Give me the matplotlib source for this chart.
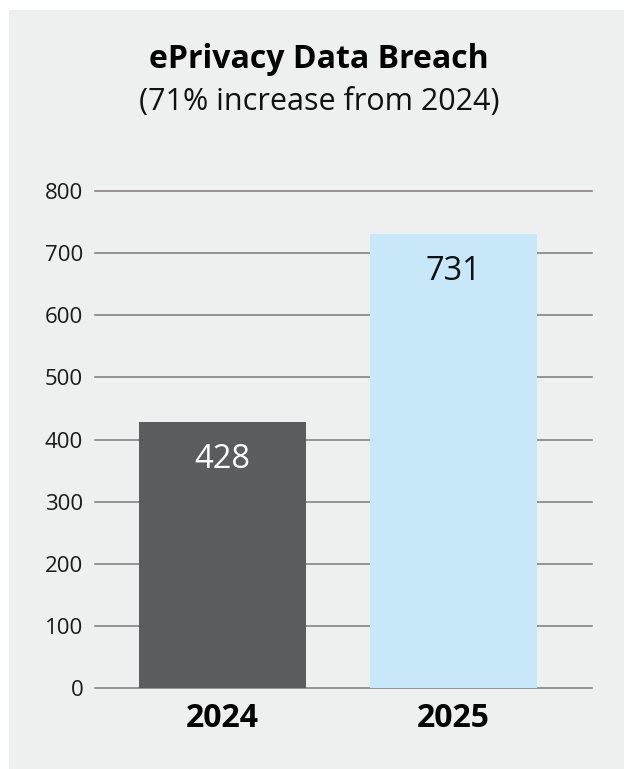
import matplotlib.pyplot as plt
from matplotlib.patches import Rectangle

years = ["2024", "2025"]
breaches = [428, 731]
bar_colors = ["#5b5c5e", "#c6e8f8"]
label_colors = ["white", "#111111"]
yticks = [0, 100, 200, 300, 400, 500, 600, 700, 800]

plt.rcParams['font.family'] = ['Open Sans', 'DejaVu Sans']

fig = plt.figure(figsize=(6.24, 7.69), dpi=100)
fig.patch.set_facecolor("white")
fig.patches.append(Rectangle((9 / 624, 0), 1, 1 - 10 / 769, transform=fig.transFigure,
                             facecolor="#eef0ef", edgecolor="none", zorder=-5))

ax = fig.add_axes([95 / 624, 1 - 688 / 769, (592 - 95) / 624, (688 - 191) / 769])
ax.set_facecolor("none")

x = list(range(len(years)))
ax.bar(x, breaches, width=0.723, color=bar_colors, zorder=3)
for xi, v, c in zip(x, breaches, label_colors):
    ax.annotate(str(v), (xi, v), xytext=(0, -27), textcoords="offset points",
                ha="center", va="center", fontsize=23.5, color=c, zorder=4)

ax.set_xlim(-0.552, 1.6)
ax.set_ylim(0, 800)
ax.set_yticks(yticks)
ax.set_yticklabels([str(t) for t in yticks], fontsize=16, color="#1a1a1a")
ax.set_xticks(x)
ax.set_xticklabels(years, fontsize=23, fontweight="bold", color="black")
ax.tick_params(axis="y", length=0, pad=8.5)
ax.tick_params(axis="x", length=0, pad=10)
ax.grid(axis="y", color="#7a7a7a", linewidth=1.1, zorder=1)
ax.set_axisbelow(True)
for s in ax.spines.values():
    s.set_visible(False)
for gl in ax.get_ygridlines():
    gl.set_clip_on(False)

fig.text(319 / 624, 1 - 60 / 769, "ePrivacy Data Breach", ha="center", va="center",
         fontsize=23, fontweight="bold", color="black")
fig.text(319 / 624, 1 - 102 / 769, "(71% increase from 2024)", ha="center", va="center",
         fontsize=22, color="#111111")

fig.savefig("out.png", dpi=100)
